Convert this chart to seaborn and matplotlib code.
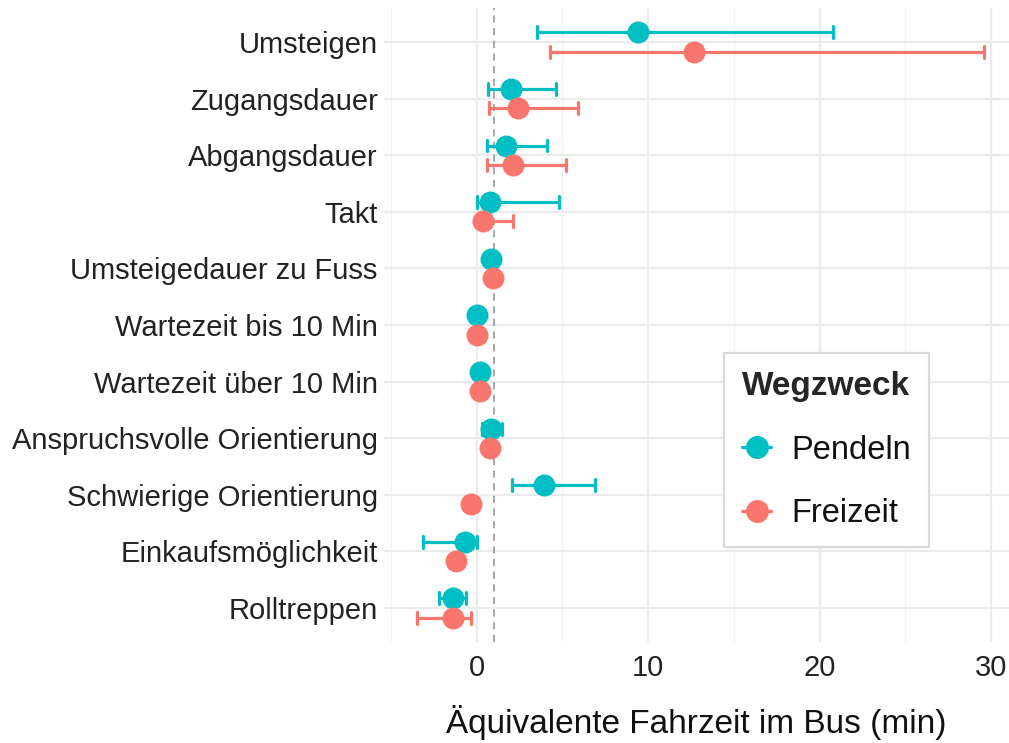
import matplotlib
matplotlib.use('Agg')
import matplotlib.pyplot as plt
from matplotlib.lines import Line2D
from matplotlib.ticker import MultipleLocator
import seaborn as sns
import pandas as pd

categories = ['Umsteigen', 'Zugangsdauer', 'Abgangsdauer', 'Takt', 'Umsteigedauer zu Fuss',
              'Wartezeit bis 10 Min', 'Wartezeit über 10 Min', 'Anspruchsvolle Orientierung',
              'Schwierige Orientierung', 'Einkaufsmöglichkeit', 'Rolltreppen']
groups = ['Pendeln', 'Freizeit']

pendeln_est = [9.4, 2.0, 1.7, 0.8, 0.85, 0.0, 0.2, 0.85, 3.9, -0.7, -1.35]
pendeln_lo = [3.5, 0.65, 0.6, 0.0, 0.55, -0.2, 0.0, 0.3, 2.05, -3.15, -2.2]
pendeln_hi = [20.8, 4.65, 4.1, 4.8, 1.15, 0.2, 0.4, 1.5, 6.9, 0.0, -0.6]

freizeit_est = [12.7, 2.4, 2.15, 0.4, 0.95, 0.05, 0.2, 0.8, -0.3, -1.2, -1.4]
freizeit_lo = [4.3, 0.75, 0.6, 0.0, 0.65, -0.2, 0.0, 0.5, -0.6, -1.5, -3.45]
freizeit_hi = [29.6, 5.9, 5.2, 2.1, 1.25, 0.3, 0.45, 1.1, 0.0, -0.9, -0.35]

palette = {'Pendeln': '#00BFC4', 'Freizeit': '#F8766D'}

# lange Tabelle: je Kategorie und Gruppe drei Zeilen (unten, Schätzer, oben)
rows = []
for grp, est, lo, hi in [('Pendeln', pendeln_est, pendeln_lo, pendeln_hi),
                         ('Freizeit', freizeit_est, freizeit_lo, freizeit_hi)]:
    for cat, e, l, h in zip(categories, est, lo, hi):
        for v in (l, e, h):
            rows.append({'Merkmal': cat, 'Wegzweck': grp, 'Wert': v})
df = pd.DataFrame(rows)

sns.set_theme(style='whitegrid')
plt.rcParams['font.family'] = ['Liberation Sans', 'DejaVu Sans']

fig = plt.figure(figsize=(10.09, 7.43), dpi=100)
ax = fig.add_axes([384 / 1009, 1 - 642 / 743, 625 / 1009, 634 / 743])

ax.axvline(1, color='#a0a0a0', linestyle=(0, (4, 3)), linewidth=1.3, zorder=1)

sns.pointplot(data=df, x='Wert', y='Merkmal', hue='Wegzweck', order=categories, hue_order=groups,
              palette=palette, orient='h', estimator='median',
              errorbar=lambda v: (v.min(), v.max()), dodge=0.34, linestyle='none',
              markers='o', markersize=13.8, capsize=0.21, err_kws={'linewidth': 2.3},
              legend=False, ax=ax, zorder=3)

ax.set_xlim(-5.4, 31.04)
ax.set_ylim(len(categories) - 0.4, -0.6)
ax.xaxis.set_major_locator(MultipleLocator(10))
ax.xaxis.set_minor_locator(MultipleLocator(5))
ax.grid(which='major', color='#ebebeb', linewidth=1.6)
ax.grid(which='minor', axis='x', color='#f2f2f2', linewidth=0.9)
ax.set_axisbelow(True)
for s in ax.spines.values():
    s.set_visible(False)
ax.set_facecolor('white')

ax.tick_params(axis='x', which='both', length=0, pad=9, labelsize=21, labelcolor='#222222')
ax.tick_params(axis='y', length=0, pad=4.5, labelsize=21, labelcolor='#222222')
ax.set_ylabel('')
ax.set_xlabel('Äquivalente Fahrzeit im Bus (min)', fontsize=24, labelpad=16, color='#111111')

# Legende im Diagramm
handles = [Line2D([], [], color=palette[g], marker='o', markersize=15.5, linewidth=2.3) for g in groups]
leg = ax.legend(handles, groups, title='Wegzweck', loc='upper left', bbox_to_anchor=(0.544, 0.4558),
                borderaxespad=0, fontsize=23.5, title_fontproperties={'weight': 'bold', 'size': 24},
                handlelength=0.9, handletextpad=0.6, labelspacing=1.0, borderpad=0.55,
                frameon=True, fancybox=False, framealpha=1, edgecolor='#d9d9d9', facecolor='white')
leg.get_frame().set_linewidth(1.6)
leg._legend_box.align = 'left'
for t in leg.get_texts():
    t.set_color('#111111')

fig.savefig('out.png', dpi=100)
